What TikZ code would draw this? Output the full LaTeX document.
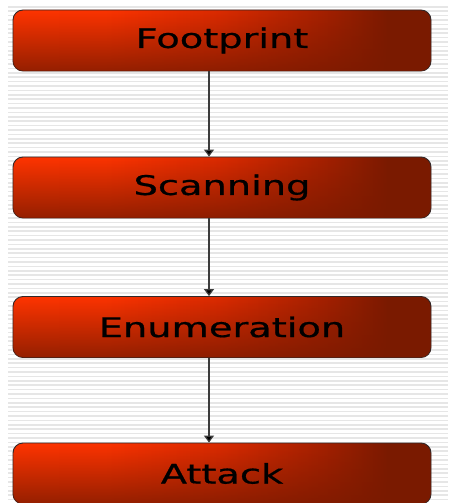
\documentclass[tikz,border=0pt]{standalone}
\usepackage{fontspec}
\usepackage{graphicx}
\usetikzlibrary{arrows.meta,fadings}
\newfontfamily\boxfont[FakeBold=0.6]{DejaVu Sans}
\definecolor{hotred}{RGB}{255,52,0}
\definecolor{darkred}{RGB}{122,26,0}
\definecolor{stripegray}{RGB}{230,230,230}
\definecolor{edgegray}{RGB}{50,40,40}
\definecolor{linkgray}{RGB}{60,60,60}
% left-to-right glow of a box (the box spans 25bp..75bp)
\pgfdeclarehorizontalshading{glow}{100bp}{%
  color(0bp)=(hotred); color(25bp)=(hotred);
  color(36bp)=(rgb,255:red,252;green,51;blue,0);
  color(50bp)=(rgb,255:red,218;green,42;blue,0);
  color(62bp)=(rgb,255:red,165;green,32;blue,0);
  color(70bp)=(darkred); color(100bp)=(darkred)}
% darkening that stays light in the upper half of a box
\tikzfading[name=lowdark, top color=transparent!100,
  middle color=transparent!92, bottom color=transparent!0]
\newcommand\widetext[1]{\scalebox{1.42}[1]{#1}}
\tikzset{
  x=1pt, y=1pt,
  stepbox/.style={
    draw=edgegray, line width=0.9pt, rounded corners=10pt,
    minimum width=418pt, minimum height=61pt, inner sep=0pt,
    shading=glow,
    postaction={fill=darkred, fill opacity=0.8, path fading=lowdark},
    text=black, font=\boxfont\fontsize{27}{30}\selectfont
  },
  link/.style={draw=linkgray, line width=1.2pt,
    -{Triangle[width=10pt,length=7pt,fill=black]}}
}
\begin{document}
\begin{tikzpicture}
  \useasboundingbox (0,0) rectangle (448,-503);
  \begin{scope}
    \clip (0,0) rectangle (448,-503);
    % striped backdrop
    \fill[white] (0,0) rectangle (448,-503);
    \foreach \yy in {6,10.4,...,503} {
      \fill[stripegray] (8,-\yy) rectangle (448,-\yy-1.6);
    }
    % the four stages
    \node[stepbox] (fp)  at (222,-40.5) {\widetext{Footprint}};
    \node[stepbox] (sc)  at (222,-187.5) {\widetext{Scanning}};
    \node[stepbox] (en)  at (222,-327) {\widetext{Enumeration}};
    \node[stepbox] (at)  at (222,-473.5) {\widetext{Attack}};
    % vertical spine the links follow
    \coordinate (spine) at (209,0);
    \draw[link] (fp.south -| spine) -- (sc.north -| spine);
    \draw[link] (sc.south -| spine) -- (en.north -| spine);
    \draw[link] (en.south -| spine) -- (at.north -| spine);
  \end{scope}
\end{tikzpicture}
\end{document}
